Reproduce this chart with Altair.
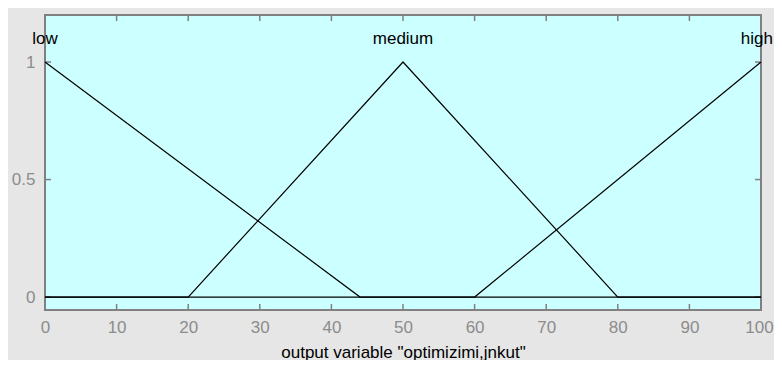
import altair as alt
import pandas as pd

# Membership functions (output variable)
mf_names = ["low", "medium", "high"]
low_x = [0, 44, 100]
low_y = [1, 0, 0]
medium_x = [0, 20, 50, 80, 100]
medium_y = [0, 0, 1, 0, 0]
high_x = [0, 60, 100]
high_y = [0, 0, 1]

label_x = [0, 50, 100]
label_y = [1.1, 1.1, 1.1]

x_ticks = [0, 10, 20, 30, 40, 50, 60, 70, 80, 90, 100]
y_ticks = [0, 0.5, 1]

axis_title = 'output variable "optimizimi,jnkut"'

rows = []
for name, xs, ys in [("low", low_x, low_y), ("medium", medium_x, medium_y), ("high", high_x, high_y)]:
    for i, (xv, yv) in enumerate(zip(xs, ys)):
        rows.append({"mf": name, "x": xv, "y": yv, "i": i})
lines_df = pd.DataFrame(rows)
labels_df = pd.DataFrame({"mf": mf_names, "x": label_x, "y": label_y})
xt_df = pd.DataFrame({"x": x_ticks})
yt_df = pd.DataFrame({"y": y_ticks})

W, H = 716, 295
FONT = "Liberation Sans"
GRAY = "#808080"

xscale = alt.Scale(domain=[0, 100], nice=False, zero=False)
yscale = alt.Scale(domain=[-0.055, 1.2], nice=False, zero=False)

xaxis = alt.Axis(values=x_ticks, tickSize=0, domain=False, grid=False,
                 labelColor="#8c8c8c", labelFontSize=17, labelFont=FONT, labelPadding=9,
                 labelOffset={"condition": {"test": "datum.value == 100", "value": -2}, "value": 0},
                 title=axis_title, titleFont=FONT, titleFontSize=17, titleFontWeight="normal",
                 titleColor="#000000", titlePadding=9, labelFlush=False)
yaxis = alt.Axis(values=y_ticks, tickSize=0, domain=False, grid=False, format="~g",
                 labelColor="#8c8c8c", labelFontSize=17, labelFont=FONT, labelPadding=10,
                 title=None)

lines = alt.Chart(lines_df).mark_line(color="black", strokeWidth=1.2).encode(
    x=alt.X("x:Q", scale=xscale, axis=xaxis),
    y=alt.Y("y:Q", scale=yscale, axis=yaxis),
    detail="mf:N",
    order="i:Q",
)

labels = alt.Chart(labels_df).transform_filter("datum.mf != 'high'").mark_text(
    font=FONT, fontSize=17, color="black", baseline="middle").encode(
    x=alt.X("x:Q", scale=xscale),
    y=alt.Y("y:Q", scale=yscale),
    text="mf:N",
)
label_high = alt.Chart(labels_df).transform_filter("datum.mf == 'high'").mark_text(
    font=FONT, fontSize=17, color="black", baseline="middle", align="right", dx=12).encode(
    x=alt.X("x:Q", scale=xscale),
    y=alt.Y("y:Q", scale=yscale),
    text="mf:N",
)

xt_bottom = alt.Chart(xt_df).mark_rule(color=GRAY, strokeWidth=1.5).encode(
    x=alt.X("x:Q", scale=xscale), y=alt.value(H), y2=alt.value(H - 6))
xt_top = alt.Chart(xt_df).mark_rule(color=GRAY, strokeWidth=1.5).encode(
    x=alt.X("x:Q", scale=xscale), y=alt.value(0), y2=alt.value(6))
yt_left = alt.Chart(yt_df).mark_rule(color=GRAY, strokeWidth=1.5).encode(
    y=alt.Y("y:Q", scale=yscale), x=alt.value(0), x2=alt.value(6))
yt_right = alt.Chart(yt_df).mark_rule(color=GRAY, strokeWidth=1.5).encode(
    y=alt.Y("y:Q", scale=yscale), x=alt.value(W), x2=alt.value(W - 6))

chart = alt.layer(xt_bottom, xt_top, yt_left, yt_right, lines, labels, label_high).properties(
    width=W, height=H,
    autosize=alt.AutoSizeParams(type="none"),
    padding={"left": 37, "top": 7, "right": 13, "bottom": 50},
    background="#E6E6E6",
).configure_view(fill="#CCFFFF", stroke=GRAY, strokeWidth=2)

chart.save("out.html", embed_options={"renderer": "svg", "actions": False})
